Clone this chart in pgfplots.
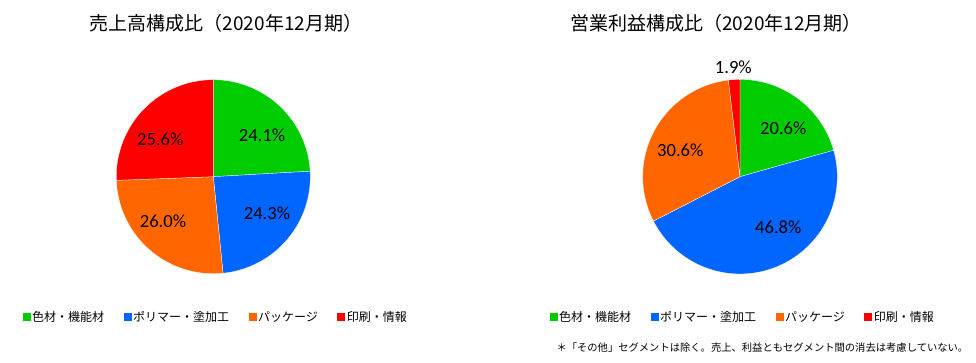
\documentclass[border=0pt]{standalone}
\usepackage{pgfplots}
\pgfplotsset{compat=1.18}
\usepackage{fontspec}
\setmainfont{Noto Sans CJK JP}
\newfontfamily\pctfont{Carlito}
\definecolor{cg}{RGB}{0,204,0}
\definecolor{cb}{RGB}{0,102,255}
\definecolor{co}{RGB}{255,102,0}
\definecolor{cr}{RGB}{255,0,0}
\begin{document}
\begin{tikzpicture}
\useasboundingbox (0,0) rectangle (976pt,363pt);
\pgfplotsset{pieaxis/.style={hide axis, scale only axis, width=976pt, height=363pt,
  at={(0,0)}, anchor=south west,
  xmin=0, xmax=976, ymin=0, ymax=363, clip=false, legend columns=4,
  legend style={draw=none, fill=none, inner sep=0pt, font=\fontsize{12}{14}\selectfont,
    column sep=0pt, /tikz/every even column/.append style={column sep=18pt},
    nodes={inner sep=1.5pt}, anchor=west},
  legend image code/.code={\fill[#1, draw=none] (0pt,-4pt) rectangle (8pt,4pt);}},
  slice/.style={draw=white, line width=0.3pt, samples=60}}
% ---------------- left pie: sales ----------------
\begin{axis}[pieaxis, legend style={at={(22.5/976,46/363)}}]
\addplot[slice, fill=cg, domain=3.24:90] ({213.3+97*cos(x)},{186.3+97*sin(x)}) -- (axis cs:213.3,186.3) -- cycle;
\addplot[slice, fill=cb, domain=-84.24:3.24] ({213.3+97*cos(x)},{186.3+97*sin(x)}) -- (axis cs:213.3,186.3) -- cycle;
\addplot[slice, fill=co, domain=-177.84:-84.24] ({213.3+97*cos(x)},{186.3+97*sin(x)}) -- (axis cs:213.3,186.3) -- cycle;
\addplot[slice, fill=cr, domain=-270:-177.84] ({213.3+97*cos(x)},{186.3+97*sin(x)}) -- (axis cs:213.3,186.3) -- cycle;
\legend{色材・機能材, ポリマー・塗加工, パッケージ, 印刷・情報}
\node[font=\fontsize{19}{22}\selectfont] at (axis cs:226,340) {売上高構成比（2020年12月期）};
\begin{scope}[font=\pctfont\fontsize{18.6}{22}\selectfont]
\node at (axis cs:262,227.5) {24.1\%};
\node at (axis cs:267,149.3) {24.3\%};
\node at (axis cs:163,141.3) {26.0\%};
\node at (axis cs:160.3,223.7) {25.6\%};
\end{scope}
\end{axis}
% ---------------- right pie: operating profit ----------------
\begin{axis}[pieaxis, legend style={at={(549.5/976,46/363)}}]
\addplot[slice, fill=cg, domain=15.77:90] ({740+97.3*cos(x)},{186.3+97.3*sin(x)}) -- (axis cs:740,186.3) -- cycle;
\addplot[slice, fill=cb, domain=-152.88:15.77] ({740+97.3*cos(x)},{186.3+97.3*sin(x)}) -- (axis cs:740,186.3) -- cycle;
\addplot[slice, fill=co, domain=-263.15:-152.88] ({740+97.3*cos(x)},{186.3+97.3*sin(x)}) -- (axis cs:740,186.3) -- cycle;
\addplot[slice, fill=cr, domain=-270:-263.15, samples=10] ({740+97.3*cos(x)},{186.3+97.3*sin(x)}) -- (axis cs:740,186.3) -- cycle;
\legend{色材・機能材, ポリマー・塗加工, パッケージ, 印刷・情報}
\node[font=\fontsize{19}{22}\selectfont] at (axis cs:716,340) {営業利益構成比（2020年12月期）};
\begin{scope}[font=\pctfont\fontsize{18.6}{22}\selectfont]
\node at (axis cs:733.3,295.7) {1.9\%};
\node at (axis cs:783.3,234.7) {20.6\%};
\node at (axis cs:680.3,212.7) {30.6\%};
\node at (axis cs:778.3,135.3) {46.8\%};
\end{scope}
\node[anchor=west, font=\fontsize{10.3}{12}\selectfont] at (axis cs:553,15) {＊「その他」セグメントは除く。売上、利益ともセグメント間の消去は考慮していない。};
\end{axis}
\end{tikzpicture}
\end{document}
